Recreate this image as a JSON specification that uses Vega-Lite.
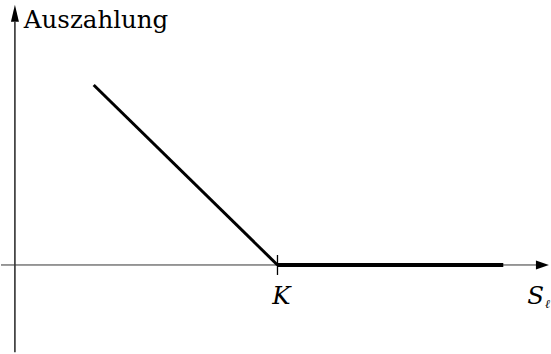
{
  "$schema": "https://vega.github.io/schema/vega-lite/v6.json",
  "width": 551,
  "height": 354,
  "autosize": {"type": "fit", "contains": "padding"},
  "padding": 0,
  "background": "white",
  "config": {"view": {"stroke": null}},
  "datasets": {
    "yaxis": [{"S": 0, "lo": -34, "hi": 94.6}],
    "xaxis": [{"lo": -5.3, "hi": 198.5, "P": 0}],
    "uparrow": [{"S": 0, "P": 97.9}],
    "rightarrow": [{"S": 200.9, "P": 0}],
    "diag": [{"S": 30, "P": 70}, {"S": 100, "P": 0}],
    "flat": [{"S": 100, "P": 0}, {"S": 186, "P": 0}],
    "strike": [{"S": 100, "P": 0}],
    "ylabel": [{"S": 3.4, "P": 92.3, "t": "Auszahlung"}],
    "klabel": [{"S": 101.5, "P": -15, "t": "K"}],
    "slabel": [{"S": 195.1, "P": -15, "t": "S"}],
    "sub": [{"S": 201.9, "P": -16.9, "t": "ℓ"}]
  },
  "layer": [
    {
      "data": {"name": "yaxis"},
      "mark": {"type": "rule", "color": "black", "strokeWidth": 1.3},
      "encoding": {
        "x": {"field": "S", "type": "quantitative", "scale": {"domain": [-5.303, 203.41], "nice": false, "zero": false}, "axis": null},
        "y": {"field": "lo", "type": "quantitative", "scale": {"domain": [-33.077, 103.077], "nice": false, "zero": false}, "axis": null},
        "y2": {"field": "hi"}
      }
    },
    {
      "data": {"name": "xaxis"},
      "mark": {"type": "rule", "color": "#333", "strokeWidth": 1},
      "encoding": {
        "x": {"field": "lo", "type": "quantitative"},
        "x2": {"field": "hi"},
        "y": {"field": "P", "type": "quantitative"}
      }
    },
    {
      "data": {"name": "uparrow"},
      "mark": {"type": "point", "shape": "M0,-1L0.47,1L-0.47,1Z", "size": 289, "filled": true, "color": "black", "opacity": 1},
      "encoding": {
        "x": {"field": "S", "type": "quantitative"},
        "y": {"field": "P", "type": "quantitative"}
      }
    },
    {
      "data": {"name": "rightarrow"},
      "mark": {"type": "point", "shape": "M1,0L-1,-0.7L-1,0.7Z", "size": 169, "filled": true, "color": "black", "opacity": 1},
      "encoding": {
        "x": {"field": "S", "type": "quantitative"},
        "y": {"field": "P", "type": "quantitative"}
      }
    },
    {
      "data": {"name": "diag"},
      "mark": {"type": "line", "color": "black", "strokeWidth": 3},
      "encoding": {
        "x": {"field": "S", "type": "quantitative"},
        "y": {"field": "P", "type": "quantitative"}
      }
    },
    {
      "data": {"name": "flat"},
      "mark": {"type": "line", "color": "black", "strokeWidth": 4},
      "encoding": {
        "x": {"field": "S", "type": "quantitative"},
        "y": {"field": "P", "type": "quantitative"}
      }
    },
    {
      "data": {"name": "strike"},
      "mark": {"type": "tick", "orient": "vertical", "color": "black", "size": 20, "thickness": 1.3, "opacity": 1},
      "encoding": {
        "x": {"field": "S", "type": "quantitative"},
        "y": {"field": "P", "type": "quantitative"}
      }
    },
    {
      "data": {"name": "ylabel"},
      "mark": {"type": "text", "font": "DejaVu Serif", "fontSize": 24.5, "align": "left", "baseline": "alphabetic", "color": "black"},
      "encoding": {
        "x": {"field": "S", "type": "quantitative"},
        "y": {"field": "P", "type": "quantitative"},
        "text": {"field": "t"}
      }
    },
    {
      "data": {"name": "klabel"},
      "mark": {"type": "text", "font": "DejaVu Serif", "fontStyle": "italic", "fontSize": 24.5, "align": "center", "baseline": "alphabetic", "color": "black"},
      "encoding": {
        "x": {"field": "S", "type": "quantitative"},
        "y": {"field": "P", "type": "quantitative"},
        "text": {"field": "t"}
      }
    },
    {
      "data": {"name": "slabel"},
      "mark": {"type": "text", "font": "DejaVu Serif", "fontStyle": "italic", "fontSize": 24.5, "align": "left", "baseline": "alphabetic", "color": "black"},
      "encoding": {
        "x": {"field": "S", "type": "quantitative"},
        "y": {"field": "P", "type": "quantitative"},
        "text": {"field": "t"}
      }
    },
    {
      "data": {"name": "sub"},
      "mark": {"type": "text", "font": "DejaVu Serif", "fontStyle": "italic", "fontSize": 12, "align": "left", "baseline": "alphabetic", "color": "black"},
      "encoding": {
        "x": {"field": "S", "type": "quantitative"},
        "y": {"field": "P", "type": "quantitative"},
        "text": {"field": "t"}
      }
    }
  ]
}
